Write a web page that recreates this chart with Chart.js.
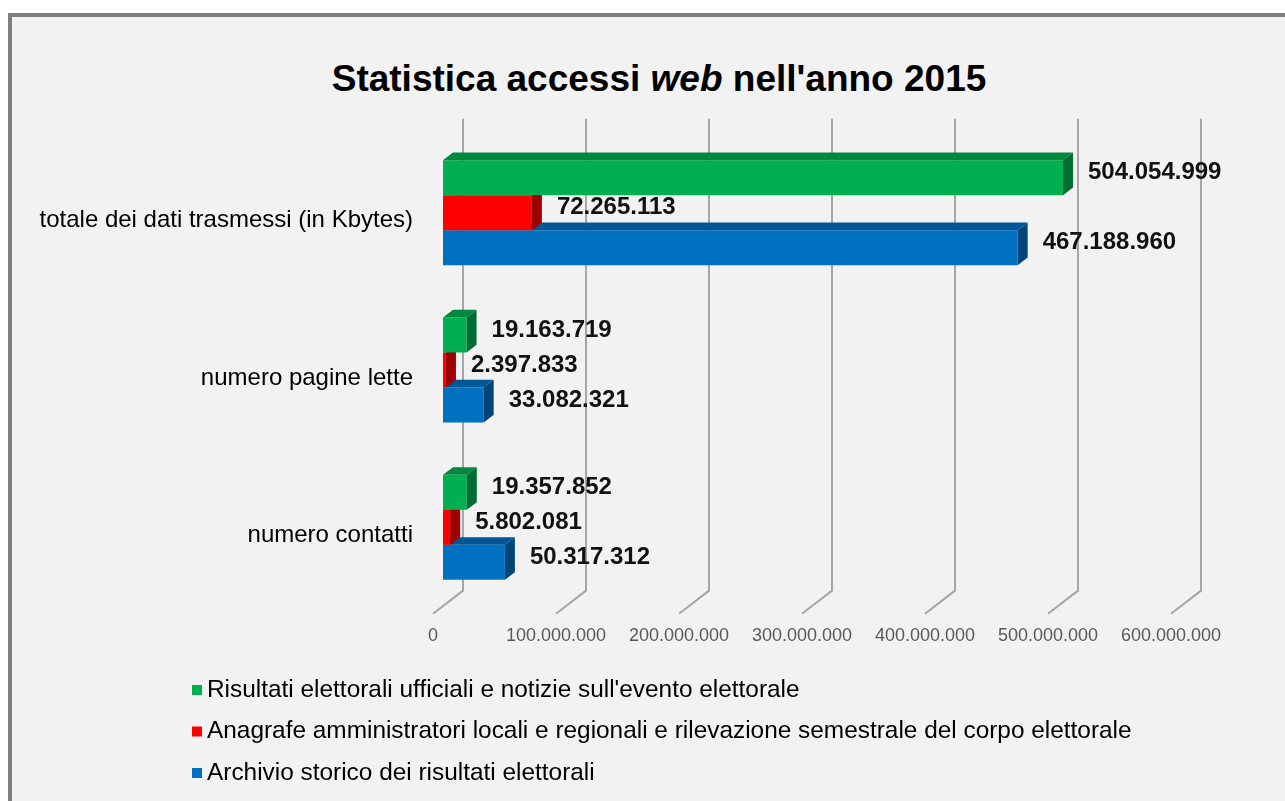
<!DOCTYPE html>
<html>
<head>
<meta charset="utf-8">
<script src="https://cdn.jsdelivr.net/npm/chart.js@4.4.1/dist/chart.umd.min.js"></script>
<style>
  html, body { margin: 0; padding: 0; background: #ffffff; width: 1285px; height: 801px; overflow: hidden; }
  #frame { position: absolute; left: 8px; top: 13px; width: 1300px; height: 800px; box-sizing: border-box;
           border-left: 4px solid #7f7f7f; border-top: 4px solid #7f7f7f; background: #f2f2f2; }
  #title { position: absolute; left: 0; width: 1318px; top: 58px; text-align: center; color: #000;
           font: bold 37px "Liberation Sans", Arial, sans-serif; white-space: nowrap; line-height: 42px; }
  #c { position: absolute; left: 0; top: 0; }
</style>
</head>
<body>
<div id="frame"></div>
<div id="title">Statistica accessi <i>web</i> nell'anno 2015</div>
<canvas id="c" width="1285" height="801"></canvas>
<script>
// Categories (one group of three bars each)
const categories = ['totale dei dati trasmessi (in Kbytes)', 'numero pagine lette', 'numero contatti'];

// Series names and values
const seriesNames = [
  "Risultati elettorali ufficiali e notizie sull'evento elettorale",
  'Anagrafe amministratori locali e regionali e rilevazione semestrale del corpo elettorale',
  'Archivio storico dei risultati elettorali'
];
const risultatiUfficiali = [504054999, 19163719, 19357852];
const anagrafeAmministratori = [72265113, 2397833, 5802081];
const archivioStorico = [467188960, 33082321, 50317312];

// Value axis ticks
const tickValues = [0, 100000000, 200000000, 300000000, 400000000, 500000000, 600000000];
const tickLabels = ['0', '100.000.000', '200.000.000', '300.000.000', '400.000.000', '500.000.000', '600.000.000'];

const seriesColors = ['#00b050', '#ff0000', '#0070c0'];

// Perspective offset of one depth unit (bars are one unit deep, the floor three)
const DX = 10, DY = 7.67;
const FONT = '"Liberation Sans", Arial, sans-serif';

function shade(hex, f) {
  const n = parseInt(hex.slice(1), 16);
  const r = Math.round(((n >> 16) & 255) * f);
  const g = Math.round(((n >> 8) & 255) * f);
  const b = Math.round((n & 255) * f);
  return `rgb(${r},${g},${b})`;
}

function dotted(v) {
  return String(Math.round(v)).replace(/\B(?=(\d{3})+(?!\d))/g, '.');
}

const box3d = {
  id: 'box3d',
  beforeDatasetsDraw(chart) {
    // back wall and floor lines for every tick
    const { ctx, chartArea: a, scales: { x } } = chart;
    ctx.save();
    ctx.strokeStyle = '#a6a6a6';
    ctx.lineWidth = 2;
    tickValues.forEach(v => {
      const px = x.getPixelForValue(v);
      ctx.beginPath();
      ctx.moveTo(px + 2 * DX, a.top - 2 * DY);
      ctx.lineTo(px + 2 * DX, a.bottom - 2 * DY);
      ctx.lineTo(px - DX, a.bottom + DY);
      ctx.stroke();
    });
    ctx.restore();
  },
  afterDatasetDraw(chart, args) {
    // top and end faces of each bar
    const { ctx } = chart;
    const color = chart.data.datasets[args.index].backgroundColor;
    ctx.save();
    args.meta.data.forEach(bar => {
      const { x, y, base, height } = bar.getProps(['x', 'y', 'base', 'height'], true);
      const t = y - height / 2, b = y + height / 2;
      ctx.fillStyle = shade(color, 0.78);
      ctx.beginPath();
      ctx.moveTo(base, t);
      ctx.lineTo(x, t);
      ctx.lineTo(x + DX, t - DY);
      ctx.lineTo(base + DX, t - DY);
      ctx.closePath();
      ctx.fill();
      ctx.fillStyle = shade(color, 0.62);
      ctx.beginPath();
      ctx.moveTo(x, t);
      ctx.lineTo(x + DX, t - DY);
      ctx.lineTo(x + DX, b - DY);
      ctx.lineTo(x, b);
      ctx.closePath();
      ctx.fill();
    });
    ctx.restore();
  },
  afterDatasetsDraw(chart) {
    // value labels at the end of each bar
    const { ctx } = chart;
    ctx.save();
    ctx.font = `bold 24px ${FONT}`;
    ctx.fillStyle = '#111111';
    ctx.textAlign = 'left';
    ctx.textBaseline = 'middle';
    chart.data.datasets.forEach((ds, i) => {
      chart.getDatasetMeta(i).data.forEach((bar, j) => {
        const { x, y } = bar.getProps(['x', 'y'], true);
        ctx.fillText(dotted(ds.data[j]), x + DX + 15, y - 5);
      });
    });
    ctx.restore();
  },
  afterDraw(chart) {
    // legend list under the plot
    const { ctx } = chart;
    ctx.save();
    ctx.font = `24.4px ${FONT}`;
    ctx.textAlign = 'left';
    ctx.textBaseline = 'middle';
    chart.data.datasets.forEach((ds, i) => {
      const cy = 690 + i * 41.5;
      ctx.fillStyle = ds.backgroundColor;
      ctx.fillRect(192, cy - 5, 10, 10);
      ctx.fillStyle = '#000';
      ctx.fillText(ds.label, 207, cy);
    });
    ctx.restore();
  }
};

new Chart(document.getElementById('c'), {
  type: 'bar',
  data: {
    labels: categories,
    datasets: [
      { label: seriesNames[0], data: risultatiUfficiali, backgroundColor: seriesColors[0] },
      { label: seriesNames[1], data: anagrafeAmministratori, backgroundColor: seriesColors[1] },
      { label: seriesNames[2], data: archivioStorico, backgroundColor: seriesColors[2] }
    ]
  },
  options: {
    indexAxis: 'y',
    responsive: false,
    animation: false,
    events: [],
    categoryPercentage: 0.667,
    barPercentage: 1.0,
    layout: { padding: { top: 134, right: 104, bottom: 0, left: 0 } },
    plugins: { legend: { display: false }, title: { display: false }, tooltip: { enabled: false } },
    scales: {
      x: {
        min: 0, max: 600000000,
        afterFit(s) { s.height = 195; },
        afterBuildTicks(s) { s.ticks = tickValues.map(v => ({ value: v })); },
        grid: { display: false, drawTicks: false },
        border: { display: false },
        ticks: {
          padding: 19,
          labelOffset: -10,
          maxRotation: 0,
          autoSkip: false,
          color: '#595959',
          font: { family: FONT, size: 18 },
          callback: (v, i) => tickLabels[i]
        }
      },
      y: {
        afterFit(s) { s.width = 443; },
        grid: { display: false, drawTicks: false },
        border: { display: false },
        ticks: {
          padding: 30,
          labelOffset: 8,
          color: '#000',
          font: { family: FONT, size: 24 }
        }
      }
    }
  },
  plugins: [box3d]
});
</script>
</body>
</html>
